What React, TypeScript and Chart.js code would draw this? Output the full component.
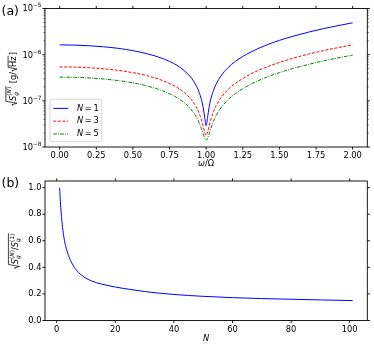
import React, { useEffect, useRef } from 'react';
import { Chart, registerables } from 'chart.js';

Chart.register(...registerables);

const FONT = '"DejaVu Sans", sans-serif';
const FS = 8.3;
const SS = 5.8;

// ---------- Panel (a): noise spectral density vs omega/Omega ----------
const omega = [0, 0.1, 0.2, 0.3, 0.4, 0.5, 0.6, 0.7, 0.8, 0.85, 0.9, 0.93, 0.95, 0.97, 0.98, 0.99, 1.0, 1.01, 1.02, 1.03, 1.05, 1.07, 1.1, 1.15, 1.2, 1.3, 1.4, 1.5, 1.6, 1.7, 1.8, 1.9, 2.0];
const noiseN1 = [1.63e-6, 1.61e-6, 1.56e-6, 1.48e-6, 1.37e-6, 1.22e-6, 1.04e-6, 8.3e-7, 5.9e-7, 4.5e-7, 3.1e-7, 2.2e-7, 1.6e-7, 1.0e-7, 7.1e-8, 4.4e-8, 2.9e-8, 4.4e-8, 7.2e-8, 1.04e-7, 1.68e-7, 2.36e-7, 3.42e-7, 5.26e-7, 7.17e-7, 1.12e-6, 1.56e-6, 2.04e-6, 2.54e-6, 3.08e-6, 3.65e-6, 4.25e-6, 4.89e-6];
const noiseN3 = [5.43e-7, 5.38e-7, 5.21e-7, 4.94e-7, 4.56e-7, 4.07e-7, 3.48e-7, 2.77e-7, 1.96e-7, 1.52e-7, 1.05e-7, 7.55e-8, 5.59e-8, 3.68e-8, 2.8e-8, 2.09e-8, 1.79e-8, 2.1e-8, 2.83e-8, 3.76e-8, 5.85e-8, 8.07e-8, 1.15e-7, 1.76e-7, 2.39e-7, 3.75e-7, 5.21e-7, 6.79e-7, 8.47e-7, 1.03e-6, 1.22e-6, 1.42e-6, 1.63e-6];
const noiseN5 = [3.26e-7, 3.23e-7, 3.13e-7, 2.97e-7, 2.74e-7, 2.45e-7, 2.09e-7, 1.66e-7, 1.18e-7, 9.15e-8, 6.35e-8, 4.62e-8, 3.47e-8, 2.38e-8, 1.91e-8, 1.55e-8, 1.4e-8, 1.55e-8, 1.92e-8, 2.43e-8, 3.62e-8, 4.93e-8, 6.99e-8, 1.06e-7, 1.44e-7, 2.25e-7, 3.13e-7, 4.08e-7, 5.09e-7, 6.16e-7, 7.3e-7, 8.51e-7, 9.78e-7];
const legendNs = ['1', '3', '5'];
const xTicksA = [0, 0.25, 0.5, 0.75, 1.0, 1.25, 1.5, 1.75, 2.0];
const yTicksA = [1e-8, 1e-7, 1e-6, 1e-5];

// ---------- Panel (b): ratio vs N ----------
const nValues = [1, 1.25, 1.5, 2, 2.5, 3, 4, 5, 6, 8, 10, 12, 15, 20, 25, 30, 40, 50, 60, 70, 80, 90, 101];
const ratioValues = [1.0, 0.895, 0.815, 0.7, 0.62, 0.565, 0.49, 0.44, 0.4, 0.35, 0.318, 0.297, 0.276, 0.252, 0.234, 0.218, 0.196, 0.182, 0.172, 0.165, 0.16, 0.155, 0.15];
const xTicksB = [0, 20, 40, 60, 80, 100];
const yTicksB = [0, 0.2, 0.4, 0.6, 0.8, 1.0];

const COLORS = ['#0000ff', '#ff0000', '#008000'];
const DASHES: number[][] = [[], [3, 1.6], [3.6, 1.2, 0.9, 1.2]];

class MathWriter {
  x = 0;
  draw = false;
  ctx: CanvasRenderingContext2D;
  constructor(ctx: CanvasRenderingContext2D) {
    this.ctx = ctx;
  }
  text(t: string, font: string, dy = 0) {
    this.ctx.font = font;
    const w = this.ctx.measureText(t).width;
    if (this.draw) this.ctx.fillText(t, this.x, dy);
    this.x += w;
    return w;
  }
  stack(sup: [string, string][], sub: [string, string][], supDy: number, subDy: number) {
    const x0 = this.x;
    let ws = 0;
    for (const [t, f] of sup) ws += this.text(t, f, supDy);
    this.x = x0;
    let wb = 0;
    for (const [t, f] of sub) wb += this.text(t, f, subDy);
    this.x = x0 + Math.max(ws, wb);
  }
  radical(body: () => void, top: number) {
    const x0 = this.x;
    const rw = 5;
    this.x += rw;
    body();
    const x1 = this.x + 0.6;
    if (this.draw) {
      const c = this.ctx;
      c.beginPath();
      c.moveTo(x0 + 0.2, -2.8);
      c.lineTo(x0 + 1.3, -3.5);
      c.lineTo(x0 + 2.7, 1.5);
      c.lineTo(x0 + rw - 0.3, top);
      c.lineTo(x1, top);
      c.lineWidth = 0.75;
      c.strokeStyle = '#000';
      c.stroke();
    }
    this.x = x1 + 0.4;
  }
}

function drawRotatedMath(ctx: CanvasRenderingContext2D, cx: number, cy: number, build: (m: MathWriter) => void) {
  ctx.save();
  ctx.translate(cx, cy);
  ctx.rotate(-Math.PI / 2);
  ctx.fillStyle = '#000';
  ctx.textBaseline = 'alphabetic';
  ctx.textAlign = 'left';
  const m = new MathWriter(ctx);
  build(m);
  const total = m.x;
  ctx.translate(-total / 2, 0);
  m.x = 0;
  m.draw = true;
  build(m);
  ctx.restore();
}

const it = (s: number) => `italic ${s}px ${FONT}`;
const rg = (s: number) => `${s}px ${FONT}`;

function drawFrame(chart: any, minorY: number[]) {
  const { ctx, chartArea: a, scales } = chart;
  const xs = scales.x;
  const ys = scales.y;
  ctx.save();
  ctx.strokeStyle = '#000';
  ctx.lineWidth = 0.9;
  ctx.strokeRect(a.left, a.top, a.right - a.left, a.bottom - a.top);
  ctx.beginPath();
  const maj = 2.6;
  const mn = 1.5;
  for (const t of xs.ticks) {
    const p = xs.getPixelForValue(t.value);
    ctx.moveTo(p, a.bottom);
    ctx.lineTo(p, a.bottom + maj);
    ctx.moveTo(p, a.top);
    ctx.lineTo(p, a.top - maj);
  }
  for (const t of ys.ticks) {
    const p = ys.getPixelForValue(t.value);
    ctx.moveTo(a.left, p);
    ctx.lineTo(a.left - maj, p);
    ctx.moveTo(a.right, p);
    ctx.lineTo(a.right + maj, p);
  }
  ctx.stroke();
  if (minorY.length) {
    ctx.beginPath();
    ctx.lineWidth = 0.6;
    for (const v of minorY) {
      const p = ys.getPixelForValue(v);
      ctx.moveTo(a.left, p);
      ctx.lineTo(a.left - mn, p);
      ctx.moveTo(a.right, p);
      ctx.lineTo(a.right + mn, p);
    }
    ctx.stroke();
  }
  ctx.restore();
}

const minorLog: number[] = [];
for (let d = -8; d < -5; d++) for (let k = 2; k <= 9; k++) minorLog.push(k * Math.pow(10, d));

function drawLogTickLabels(chart: any) {
  const ctx: CanvasRenderingContext2D = chart.ctx;
  const ys = chart.scales.y;
  const right = chart.chartArea.left - 3.5;
  ctx.save();
  ctx.fillStyle = '#000';
  ctx.textBaseline = 'middle';
  ctx.textAlign = 'left';
  for (const t of ys.ticks) {
    const p = ys.getPixelForValue(t.value);
    const exp = '\u2212' + String(Math.abs(Math.round(Math.log10(t.value))));
    ctx.font = rg(FS);
    const w1 = ctx.measureText('10').width;
    ctx.font = rg(SS);
    const w2 = ctx.measureText(exp).width;
    const x0 = right - w1 - w2;
    ctx.font = rg(FS);
    ctx.fillText('10', x0, p + 0.8);
    ctx.font = rg(SS);
    ctx.fillText(exp, x0 + w1, p - 2.6);
  }
  ctx.restore();
}

const pluginA = {
  id: 'decorA',
  afterDraw(chart: any) {
    const ctx: CanvasRenderingContext2D = chart.ctx;
    drawFrame(chart, minorLog);
    drawLogTickLabels(chart);
    ctx.save();
    // legend
    const bx = 50, by = 99.3, bw = 51.7, bh = 42.4, r = 2;
    ctx.beginPath();
    ctx.moveTo(bx + r, by);
    ctx.arcTo(bx + bw, by, bx + bw, by + bh, r);
    ctx.arcTo(bx + bw, by + bh, bx, by + bh, r);
    ctx.arcTo(bx, by + bh, bx, by, r);
    ctx.arcTo(bx, by, bx + bw, by, r);
    ctx.closePath();
    ctx.fillStyle = 'rgba(255,255,255,0.8)';
    ctx.fill();
    ctx.strokeStyle = '#cccccc';
    ctx.lineWidth = 0.8;
    ctx.stroke();
    legendNs.forEach((n, i) => {
      const y = 108.4 + i * 12.8;
      ctx.beginPath();
      ctx.setLineDash(DASHES[i]);
      ctx.strokeStyle = COLORS[i];
      ctx.lineWidth = 1;
      ctx.moveTo(53.3, y);
      ctx.lineTo(68.3, y);
      ctx.stroke();
      ctx.setLineDash([]);
      ctx.fillStyle = '#000';
      ctx.textBaseline = 'middle';
      ctx.textAlign = 'left';
      ctx.font = it(FS);
      ctx.fillText('N', 77, y);
      const w = ctx.measureText('N').width;
      ctx.font = rg(FS);
      ctx.fillText('\u2009=\u2009' + n, 77 + w, y);
    });
    // panel label
    ctx.fillStyle = '#000';
    ctx.font = rg(12.5);
    ctx.textBaseline = 'middle';
    ctx.textAlign = 'left';
    ctx.fillText('(a)', 1.5, 11.5);
    // x title
    ctx.font = it(FS);
    const wo = ctx.measureText('\u03C9').width;
    ctx.font = rg(FS);
    const wr = ctx.measureText('/\u03A9').width;
    const x0 = 206 - (wo + wr) / 2;
    ctx.font = it(FS);
    ctx.fillText('\u03C9', x0, 164);
    ctx.font = rg(FS);
    ctx.fillText('/\u03A9', x0 + wo, 164);
    ctx.restore();
    // y title
    drawRotatedMath(ctx, 15.5, 79, (m) => {
      m.radical(() => {
        m.text('S', it(FS));
        m.stack([['(', rg(SS)], ['N', it(SS)], [')', rg(SS)]], [['g', it(SS)]], -4.2, 2.2);
      }, -9.6);
      m.text(' [g/', rg(FS));
      m.radical(() => {
        m.text('Hz', rg(FS));
      }, -7.4);
      m.text(']', rg(FS));
    });
  },
};

const pluginB = {
  id: 'decorB',
  afterDraw(chart: any) {
    const ctx: CanvasRenderingContext2D = chart.ctx;
    drawFrame(chart, []);
    ctx.save();
    ctx.fillStyle = '#000';
    ctx.font = rg(12.5);
    ctx.textBaseline = 'middle';
    ctx.textAlign = 'left';
    ctx.fillText('(b)', 1.5, 12);
    ctx.font = it(FS);
    ctx.textAlign = 'center';
    ctx.fillText('N', 206, 167);
    ctx.restore();
    drawRotatedMath(ctx, 18, 79, (m) => {
      m.radical(() => {
        m.text('S', it(FS));
        m.stack([['(', rg(SS)], ['N', it(SS)], [')', rg(SS)]], [['g', it(SS)]], -4.2, 2.2);
        m.text('/', rg(FS));
        m.text('S', it(FS));
        m.stack([['(1)', rg(SS)]], [['g', it(SS)]], -4.2, 2.2);
      }, -9.6);
    });
  },
};

const tickFont = { family: FONT, size: FS };

function ChartA() {
  const ref = useRef<HTMLCanvasElement>(null);
  useEffect(() => {
    if (!ref.current) return;
    const series = [noiseN1, noiseN3, noiseN5];
    const chart = new Chart(ref.current, {
      type: 'line',
      data: {
        datasets: series.map((s, i) => ({
          label: 'N = ' + legendNs[i],
          data: omega.map((x, j) => ({ x, y: s[j] })),
          borderColor: COLORS[i],
          borderWidth: 1,
          borderDash: DASHES[i],
          pointRadius: 0,
          fill: false,
          cubicInterpolationMode: 'monotone',
        })),
      },
      options: {
        animation: false,
        responsive: false,
        maintainAspectRatio: false,
        layout: { padding: { left: 0, right: 6.7, top: 7, bottom: 0 } },
        plugins: { legend: { display: false }, tooltip: { enabled: false } },
        scales: {
          x: {
            type: 'linear',
            min: -0.1,
            max: 2.1,
            grid: { display: false, drawTicks: false, tickLength: 0 },
            border: { display: false },
            afterFit: (s: any) => { s.height = 25; },
            afterBuildTicks: (s: any) => { s.ticks = xTicksA.map((v) => ({ value: v })); },
            ticks: { autoSkip: false, maxRotation: 0, padding: 4, font: tickFont, color: '#000', callback: (v: any) => Number(v).toFixed(2) },
          },
          y: {
            type: 'logarithmic',
            min: 1e-8,
            max: 1e-5,
            grid: { display: false, drawTicks: false, tickLength: 0 },
            border: { display: false },
            afterFit: (s: any) => { s.width = 45; },
            afterBuildTicks: (s: any) => { s.ticks = yTicksA.map((v) => ({ value: v })); },
            ticks: { autoSkip: false, padding: 3.5, font: tickFont, color: '#000', callback: () => '' },
          },
        },
      } as any,
      plugins: [pluginA],
    });
    return () => chart.destroy();
  }, []);
  return <canvas ref={ref} width={374} height={172} style={{ position: 'absolute', left: 0, top: 0, width: 374, height: 172 }} />;
}

function ChartB() {
  const ref = useRef<HTMLCanvasElement>(null);
  useEffect(() => {
    if (!ref.current) return;
    const chart = new Chart(ref.current, {
      type: 'line',
      data: {
        datasets: [
          {
            label: 'ratio',
            data: nValues.map((x, j) => ({ x, y: ratioValues[j] })),
            borderColor: '#0000ff',
            borderWidth: 1,
            pointRadius: 0,
            fill: false,
            cubicInterpolationMode: 'monotone',
          },
        ],
      },
      options: {
        animation: false,
        responsive: false,
        maintainAspectRatio: false,
        layout: { padding: { left: 0, right: 6.7, top: 9, bottom: 0 } },
        plugins: { legend: { display: false }, tooltip: { enabled: false } },
        scales: {
          x: {
            type: 'linear',
            min: -4,
            max: 106,
            grid: { display: false, drawTicks: false, tickLength: 0 },
            border: { display: false },
            afterFit: (s: any) => { s.height = 27.5; },
            afterBuildTicks: (s: any) => { s.ticks = xTicksB.map((v) => ({ value: v })); },
            ticks: { autoSkip: false, maxRotation: 0, padding: 4, font: tickFont, color: '#000', callback: (v: any) => String(Math.round(Number(v))) },
          },
          y: {
            type: 'linear',
            min: 0,
            max: 1.05,
            grid: { display: false, drawTicks: false, tickLength: 0 },
            border: { display: false },
            afterFit: (s: any) => { s.width = 45; },
            afterBuildTicks: (s: any) => { s.ticks = yTicksB.map((v) => ({ value: v })); },
            ticks: { autoSkip: false, padding: 3.5, font: tickFont, color: '#000', callback: (v: any) => Number(v).toFixed(1) },
          },
        },
      } as any,
      plugins: [pluginB],
    });
    return () => chart.destroy();
  }, []);
  return <canvas ref={ref} width={374} height={176} style={{ position: 'absolute', left: 0, top: 172, width: 374, height: 176 }} />;
}

export default function App() {
  return (
    <div style={{ position: 'absolute', left: 0, top: 0, width: 374, height: 348, background: '#fff', overflow: 'hidden' }}>
      <ChartA />
      <ChartB />
    </div>
  );
}
